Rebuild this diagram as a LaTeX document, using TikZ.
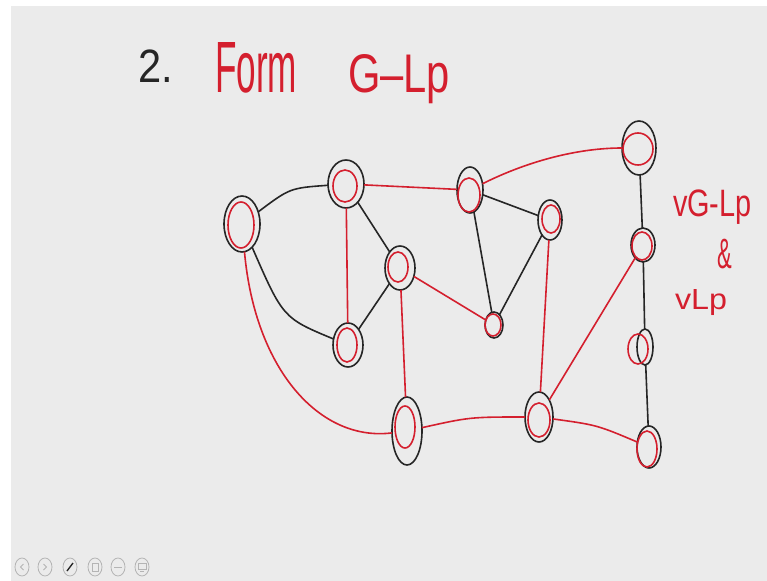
\documentclass[tikz,border=0pt]{standalone}
\usepackage{fontspec}
\usepackage{graphicx}
\setmainfont{Liberation Sans}
\usetikzlibrary{shapes.geometric}
\definecolor{bg}{HTML}{EBEBEB}
\definecolor{ink}{HTML}{262626}
\definecolor{rink}{HTML}{D41F2E}
\definecolor{icon}{HTML}{B4B4B4}
\newcommand\vtx[9]{%
  \node[vout, minimum width=#4*1.5pt, minimum height=#5*1.5pt] (#1) at (#2,#3) {};
  \draw[vin, shift={(#2,#3)}] (#8,#9) ellipse [x radius=#6, y radius=#7];
}
\begin{document}
\begin{tikzpicture}[x=0.75pt,y=-0.75pt,
  vout/.style={draw=ink, line width=1.2pt, ellipse, inner sep=0pt, outer sep=0pt},
  vin/.style={draw=rink, line width=1.2pt},
  bl/.style={draw=ink, line width=1.2pt},
  rd/.style={draw=rink, line width=1.2pt},
  txt/.style={inner sep=0pt, outer sep=0pt, anchor=base west},
  ic/.style={draw=icon, line width=0.6pt, ellipse, minimum width=10.5pt, minimum height=13.5pt, inner sep=0pt}
]
\fill[white] (0,0) rectangle (767,581);
\fill[bg] (11,6) rectangle (767,581);
\useasboundingbox (0,0) rectangle (767,581);

% title
\node[txt, text=ink] (t2) at (138,83) {\resizebox{26pt}{24.5pt}{2.}};
\node[txt, text=rink] (tform) at (215,93) {\resizebox{61.5pt}{37.5pt}{Form}};
\node[txt, text=rink] (tglp) at (348,93) {\resizebox{76.5pt}{28.5pt}{G–Lp}};

% side note
\node[txt, text=rink] (n1) at (673,216) {\resizebox{59pt}{20pt}{vG-Lp}};
\node[txt, text=rink] (n2) at (717,268) {\resizebox{11pt}{22pt}{\&}};
\node[txt, text=rink] (n3) at (675,309) {\resizebox{39pt}{15pt}{vLp}};

% vertices
\vtx{A}{242}{224}{18}{28}{13}{23}{-1}{1}
\vtx{B}{346}{184}{18}{24}{12}{16}{-1}{2}
\vtx{C}{400}{268}{15}{22}{10}{15}{-2}{-1}
\vtx{D}{348}{345}{15}{22}{10}{17}{-1}{0}
\vtx{E}{470}{190}{13}{23}{11}{17}{-1}{5}
\vtx{F}{550}{220}{12}{20}{9}{14}{1}{-1}
\vtx{G}{494}{325}{9}{13}{8}{11}{-1}{0}
\vtx{H}{407}{431}{15}{34}{10}{21}{-2}{-4}
\vtx{I}{539}{417}{14}{25}{11}{17}{0}{3}
\vtx{J}{639}{148}{17}{27}{15}{16}{-1}{1}
\vtx{K}{643}{245}{12}{17}{10}{14}{-1}{1}
\vtx{L}{645}{347}{8}{18}{10}{15}{-7}{2}
\vtx{M}{649}{447}{12}{21}{10}{18}{-2}{2}

% black edges
\draw[bl] (A) .. controls (290,188) .. (B);
\draw[bl] (A) .. controls (283,318) .. (D);
\draw[bl] (B) -- (C);
\draw[bl] (C) -- (D);
\draw[bl] (E) -- (F);
\draw[bl] (E) -- (G);
\draw[bl] (F) -- (G);
\draw[bl] (J) -- (K);
\draw[bl] (K) -- (L);
\draw[bl] (L) -- (M);

% red edges
\draw[rd] (B) -- (E);
\draw[rd] (B) -- (D);
\draw[rd] (C) -- (G);
\draw[rd] (C) -- (H);
\draw[rd] (A) .. controls (255,370) and (320,442) .. (H);
\draw[rd] (E) .. controls (530,160) and (580,148) .. (J);
\draw[rd] (F) -- (I);
\draw[rd] (H) .. controls (470,417) .. (I);
\draw[rd] (I) -- (K);
\draw[rd] (I) .. controls (597,425) .. (M);

% toolbar icons
\node[ic] (ic1) at (22,567) {};
\node[ic] (ic2) at (45,567) {};
\node[ic] (ic3) at (70,567) {};
\node[ic] (ic4) at (95,567) {};
\node[ic] (ic5) at (118,567) {};
\node[ic] (ic6) at (142,567) {};
\draw[icon, line width=0.6pt] (23.5,564) -- (20.5,567) -- (23.5,570);
\draw[icon, line width=0.6pt] (43.5,564) -- (46.5,567) -- (43.5,570);
\draw[ink, line width=1pt] (67,571) -- (73,563);
\draw[icon, line width=0.6pt] (92,563) rectangle (98,571);
\draw[icon, line width=0.6pt] (114,567) -- (122,567);
\draw[icon, line width=0.6pt] (138,563) rectangle (146,569) (140,571) -- (144,571);
\end{tikzpicture}
\end{document}
